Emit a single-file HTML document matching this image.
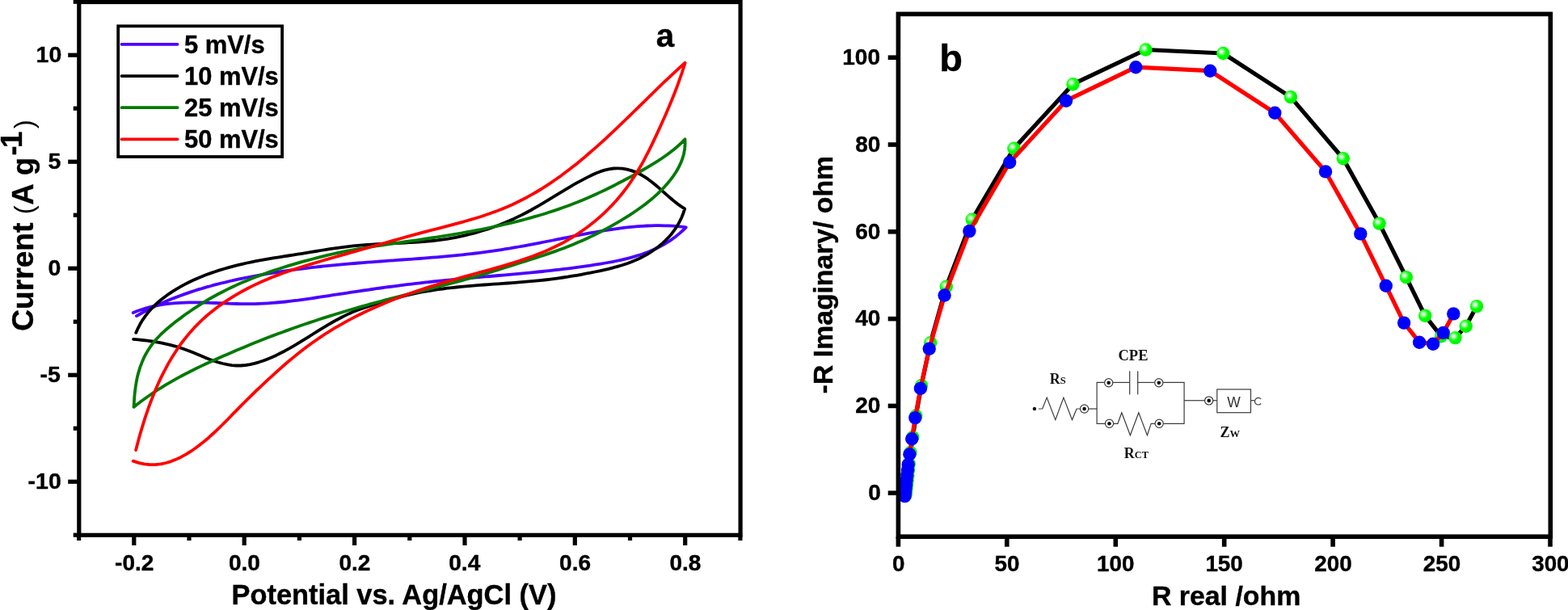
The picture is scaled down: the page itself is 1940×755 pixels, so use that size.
<!DOCTYPE html>
<html><head><meta charset="utf-8"><title>CV and EIS</title>
<style>html,body{margin:0;padding:0;background:#fff}body{width:1940px;height:755px;overflow:hidden}svg{display:block}text{font-family:"Liberation Sans",Arial,sans-serif;font-weight:bold;fill:#000;stroke:#000;stroke-width:0.4px;stroke-linejoin:round}.ser{font-family:"Liberation Serif","Times New Roman",serif;font-weight:bold;fill:#111;stroke:none}.reg{font-weight:normal;stroke:none}</style></head><body>
<svg width="1940" height="755" viewBox="0 0 1940 755">
<defs><radialGradient id="gs" cx="0.38" cy="0.38" r="0.6" fx="0.38" fy="0.38"><stop offset="0" stop-color="#ffffff"/><stop offset="0.1" stop-color="#f0fff0"/><stop offset="0.45" stop-color="#30ff30"/><stop offset="0.62" stop-color="#00ff00"/><stop offset="1" stop-color="#00f400"/></radialGradient><filter id="bl" x="-5%" y="-20%" width="110%" height="140%"><feGaussianBlur stdDeviation="0.35"/></filter></defs>
<rect width="1940" height="755" fill="#fff"/>
<g id="panel-a">
<g fill="none" stroke-width="3.8" stroke-linecap="round" stroke-linejoin="round">
<path stroke="#4b00ff" d="M168.9 391.1L173.6 388.5L178.4 385.9L183.1 383.4L187.9 381.0L192.8 378.6L197.6 376.4L202.5 374.2L207.4 372.1L212.4 370.0L217.4 368.1L222.4 366.2L227.4 364.4L232.5 362.6L237.5 360.9L242.6 359.2L247.8 357.7L252.9 356.1L258.1 354.7L263.2 353.2L268.4 351.9L273.6 350.5L278.9 349.3L284.1 348.0L289.3 346.9L294.6 345.7L299.9 344.6L305.1 343.5L310.4 342.5L315.7 341.5L321.0 340.5L326.3 339.6L331.6 338.7L336.9 337.8L342.2 337.0L347.6 336.2L352.9 335.4L358.2 334.6L363.6 333.9L368.9 333.2L374.2 332.5L379.6 331.8L384.9 331.2L390.3 330.6L395.6 330.0L401.0 329.4L406.3 328.9L411.7 328.3L417.0 327.8L422.4 327.3L427.7 326.9L433.1 326.4L438.5 326.0L443.8 325.5L449.2 325.1L454.5 324.7L459.9 324.3L465.3 323.9L470.6 323.5L476.0 323.1L481.3 322.7L486.7 322.3L492.1 321.9L497.4 321.5L502.8 321.2L508.1 320.8L513.5 320.4L518.8 320.0L524.2 319.6L529.6 319.1L534.9 318.7L540.3 318.3L545.6 317.8L551.0 317.3L556.3 316.8L561.7 316.3L567.0 315.8L572.3 315.3L577.7 314.7L583.0 314.1L588.4 313.5L593.7 312.8L599.0 312.1L604.3 311.4L609.7 310.7L615.0 309.9L620.3 309.1L625.6 308.2L630.9 307.4L636.2 306.4L641.5 305.5L646.8 304.6L652.1 303.6L657.3 302.6L662.6 301.6L667.9 300.6L673.2 299.5L678.5 298.5L683.8 297.5L689.0 296.4L694.3 295.4L699.6 294.3L704.9 293.3L710.2 292.2L715.4 291.2L720.7 290.2L726.0 289.2L731.3 288.2L736.6 287.3L741.9 286.4L747.2 285.5L752.5 284.6L757.8 283.8L763.1 283.1L768.4 282.4L773.7 281.7L779.0 281.1L784.3 280.6L789.7 280.2L795.0 279.8L800.3 279.5L805.7 279.3L811.1 279.2L816.4 279.2L821.8 279.3L827.2 279.4L832.6 279.7L838.0 280.1L843.4 280.7L848.8 281.3L844.8 285.3L840.7 288.9L836.5 292.4L832.2 295.6L827.8 298.7L823.2 301.5L818.6 304.1L813.9 306.6L809.0 308.8L804.1 310.9L799.2 312.9L794.1 314.7L789.0 316.3L783.8 317.9L778.6 319.3L773.4 320.6L768.1 321.9L762.7 323.0L757.4 324.1L752.0 325.0L746.6 326.0L741.2 326.9L735.8 327.7L730.4 328.6L725.0 329.4L719.5 330.1L714.1 330.9L708.7 331.6L703.3 332.3L697.9 332.9L692.5 333.6L687.1 334.2L681.7 334.8L676.3 335.4L670.9 336.0L665.5 336.5L660.1 337.1L654.7 337.6L649.3 338.1L643.9 338.6L638.5 339.1L633.1 339.6L627.7 340.1L622.3 340.6L616.9 341.0L611.5 341.5L606.1 342.0L600.6 342.4L595.2 342.9L589.8 343.4L584.4 343.9L579.0 344.3L573.6 344.8L568.2 345.3L562.8 345.8L557.4 346.3L552.0 346.9L546.6 347.4L541.2 347.9L535.9 348.5L530.5 349.1L525.1 349.7L519.7 350.3L514.3 350.9L508.9 351.6L503.5 352.2L498.1 352.9L492.7 353.6L487.3 354.3L481.9 355.0L476.5 355.7L471.1 356.5L465.7 357.2L460.3 358.0L454.9 358.8L449.6 359.5L444.2 360.3L438.8 361.1L433.4 361.9L428.0 362.8L422.7 363.6L417.3 364.4L411.9 365.2L406.6 366.1L401.2 366.9L395.8 367.7L390.5 368.5L385.1 369.3L379.7 370.1L374.4 370.8L369.0 371.6L363.6 372.2L358.2 372.9L352.9 373.5L347.5 374.0L342.1 374.5L336.7 374.9L331.3 375.3L325.9 375.6L320.4 375.9L315.0 376.1L309.6 376.2L304.1 376.2L298.7 376.1L293.2 376.0L287.8 375.8L282.3 375.7L276.8 375.4L271.4 375.2L265.9 375.0L260.5 374.8L255.0 374.6L249.6 374.5L244.1 374.4L238.7 374.4L233.3 374.4L227.9 374.6L222.5 374.8L217.1 375.1L211.8 375.6L206.4 376.2L201.1 376.9L195.8 377.8L190.6 378.9L185.3 380.1L180.1 381.5L175.0 383.2L169.8 385.0L164.7 387.1"/>
<path stroke="#000" d="M168.3 411.8L170.7 406.3L173.4 401.1L176.4 396.1L179.7 391.3L183.2 386.8L187.0 382.5L191.0 378.4L195.2 374.5L199.6 370.7L204.2 367.2L208.9 363.8L213.7 360.6L218.6 357.6L223.7 354.7L228.8 351.9L233.9 349.3L239.1 346.8L244.4 344.4L249.8 342.2L255.2 340.1L260.6 338.1L266.1 336.2L271.6 334.4L277.2 332.7L282.8 331.1L288.4 329.6L294.0 328.2L299.7 326.8L305.4 325.5L311.1 324.3L316.7 323.2L322.4 322.1L328.1 321.1L333.8 320.1L339.5 319.2L345.2 318.3L350.9 317.4L356.6 316.5L362.4 315.6L368.1 314.7L373.8 313.8L379.5 312.9L385.2 311.9L391.0 311.0L396.7 310.0L402.4 309.1L408.1 308.2L413.9 307.4L419.6 306.6L425.4 305.8L431.1 305.1L436.9 304.4L442.7 303.9L448.5 303.4L454.2 303.0L460.0 302.6L465.8 302.2L471.6 301.9L477.4 301.6L483.2 301.4L489.0 301.1L494.8 300.8L500.6 300.5L506.4 300.2L512.2 299.9L517.9 299.5L523.7 299.1L529.5 298.6L535.2 298.0L541.0 297.4L546.7 296.6L552.5 295.8L558.2 294.8L563.9 293.8L569.6 292.6L575.2 291.4L580.9 290.0L586.5 288.6L592.1 287.0L597.6 285.3L603.2 283.6L608.6 281.7L614.1 279.8L619.5 277.7L624.9 275.5L630.2 273.3L635.5 270.9L640.7 268.4L645.9 265.9L651.0 263.2L656.1 260.5L661.1 257.6L666.1 254.8L671.1 251.8L676.1 248.8L681.0 245.8L686.0 242.8L690.9 239.8L695.9 236.8L700.9 233.8L705.9 230.8L710.9 227.9L716.0 225.1L721.2 222.3L726.4 219.6L731.7 217.0L737.0 214.5L742.4 212.4L747.9 210.6L753.4 209.3L758.9 208.5L764.6 208.3L770.2 208.7L775.7 209.7L781.2 211.1L786.6 213.1L791.8 215.5L796.8 218.4L801.7 221.7L806.4 225.2L811.1 229.0L815.6 232.9L820.1 236.9L824.5 240.9L829.0 244.8L833.4 248.5L837.9 252.1L842.5 255.4L847.2 258.3L845.4 263.9L843.3 269.2L840.8 274.4L838.0 279.4L834.9 284.2L831.5 288.7L827.8 293.1L823.8 297.2L819.7 301.1L815.3 304.8L810.7 308.3L806.0 311.5L801.1 314.6L796.0 317.4L790.9 320.0L785.7 322.3L780.4 324.5L775.0 326.5L769.5 328.3L764.0 329.9L758.5 331.4L752.9 332.8L747.3 334.1L741.7 335.4L736.0 336.5L730.4 337.7L724.7 338.7L719.1 339.8L713.4 340.8L707.8 341.7L702.1 342.7L696.5 343.5L690.8 344.3L685.1 345.1L679.4 345.8L673.7 346.5L668.0 347.1L662.3 347.7L656.6 348.2L650.9 348.7L645.1 349.2L639.4 349.7L633.7 350.1L627.9 350.5L622.2 350.9L616.4 351.3L610.7 351.7L604.9 352.1L599.2 352.5L593.5 352.9L587.7 353.4L582.0 353.8L576.3 354.3L570.5 354.9L564.8 355.5L559.1 356.1L553.4 356.7L547.7 357.5L542.0 358.2L536.4 359.1L530.7 360.0L525.0 361.0L519.4 362.0L513.8 363.2L508.2 364.4L502.6 365.7L497.0 367.1L491.5 368.6L485.9 370.2L480.4 371.8L474.9 373.4L469.3 375.0L463.8 376.7L458.3 378.4L452.9 380.2L447.4 382.0L442.0 384.0L436.7 386.1L431.5 388.4L426.3 390.9L421.2 393.5L416.1 396.2L411.1 399.0L406.1 401.9L401.2 404.8L396.2 407.9L391.3 410.9L386.4 414.0L381.5 417.1L376.6 420.1L371.7 423.2L366.8 426.2L361.8 429.1L356.8 431.9L351.8 434.7L346.7 437.3L341.5 439.9L336.3 442.2L331.0 444.4L325.7 446.5L320.2 448.3L314.7 449.8L309.2 451.1L303.6 452.0L298.0 452.5L292.4 452.5L286.8 452.1L281.2 451.2L275.7 450.0L270.1 448.5L264.6 446.7L259.2 444.7L253.7 442.6L248.4 440.3L243.0 438.1L237.6 435.8L232.2 433.7L226.8 431.7L221.4 429.9L215.9 428.3L210.5 426.9L204.9 425.6L199.4 424.4L193.7 423.4L188.1 422.5L182.4 421.7L176.7 421.0L170.9 420.4L165.1 419.8"/>
<path stroke="#007a04" d="M165.6 503.8L165.9 497.7L166.3 491.5L166.9 485.2L167.7 479.0L168.7 472.8L169.9 466.6L171.5 460.6L173.3 454.6L175.5 448.8L177.9 443.2L180.7 437.7L183.8 432.5L187.3 427.4L191.0 422.6L195.1 418.0L199.4 413.5L204.0 409.3L208.7 405.2L213.5 401.2L218.5 397.3L223.5 393.6L228.5 389.8L233.7 386.2L238.8 382.7L244.0 379.3L249.3 375.9L254.6 372.7L259.9 369.5L265.3 366.5L270.8 363.5L276.3 360.7L281.8 357.9L287.4 355.2L293.0 352.6L298.7 350.1L304.4 347.7L310.2 345.3L315.9 343.1L321.7 340.9L327.6 338.7L333.4 336.6L339.3 334.6L345.2 332.7L351.1 330.8L357.1 328.9L363.1 327.2L369.0 325.4L375.0 323.7L381.0 322.1L387.0 320.5L393.1 318.9L399.1 317.4L405.1 315.9L411.2 314.5L417.3 313.2L423.3 311.9L429.4 310.7L435.5 309.5L441.6 308.4L447.7 307.3L453.9 306.3L460.0 305.3L466.1 304.4L472.2 303.5L478.4 302.6L484.5 301.7L490.7 300.8L496.8 299.9L503.0 299.0L509.1 298.2L515.3 297.3L521.4 296.3L527.6 295.4L533.7 294.5L539.9 293.6L546.0 292.6L552.2 291.6L558.3 290.6L564.5 289.6L570.6 288.5L576.7 287.4L582.8 286.3L588.9 285.2L595.0 284.0L601.1 282.8L607.2 281.5L613.3 280.2L619.4 278.9L625.4 277.5L631.5 276.1L637.5 274.6L643.5 273.1L649.5 271.5L655.5 269.9L661.5 268.2L667.4 266.5L673.4 264.7L679.3 262.8L685.2 260.9L691.1 258.9L696.9 256.8L702.7 254.7L708.5 252.5L714.3 250.3L720.0 248.0L725.8 245.6L731.5 243.1L737.1 240.5L742.7 237.9L748.4 235.2L753.9 232.5L759.5 229.7L765.0 226.8L770.5 224.0L776.0 221.0L781.5 218.1L786.9 215.1L792.4 212.0L797.8 209.0L803.1 205.9L808.4 202.7L813.7 199.4L818.9 196.0L823.9 192.5L828.9 188.8L833.8 185.0L838.5 181.0L843.1 176.8L847.5 172.3L847.6 178.6L847.1 184.7L846.0 190.7L844.3 196.5L842.1 202.1L839.5 207.5L836.5 212.7L833.1 217.8L829.5 222.6L825.7 227.3L821.7 231.8L817.5 236.2L813.1 240.4L808.6 244.4L804.0 248.3L799.2 252.1L794.3 255.7L789.3 259.3L784.3 262.7L779.2 266.1L774.0 269.3L768.8 272.5L763.6 275.6L758.3 278.6L753.0 281.6L747.7 284.4L742.3 287.2L736.9 290.0L731.5 292.6L726.0 295.2L720.5 297.7L714.9 300.1L709.4 302.4L703.7 304.7L698.1 306.9L692.4 309.0L686.7 311.1L680.9 313.1L675.1 315.1L669.4 317.0L663.6 318.9L657.8 320.8L652.0 322.6L646.2 324.5L640.4 326.3L634.6 328.2L628.8 330.0L623.0 331.8L617.2 333.7L611.4 335.5L605.7 337.2L599.9 339.0L594.1 340.7L588.3 342.4L582.4 344.1L576.6 345.7L570.8 347.3L564.9 348.9L559.0 350.5L553.2 352.0L547.3 353.5L541.4 355.0L535.5 356.5L529.6 358.0L523.7 359.5L517.9 360.9L512.0 362.4L506.1 363.9L500.2 365.4L494.3 366.9L488.4 368.4L482.5 369.9L476.6 371.4L470.8 373.0L464.9 374.6L459.0 376.2L453.2 377.8L447.3 379.4L441.5 381.1L435.7 382.8L429.8 384.5L424.0 386.2L418.2 388.0L412.4 389.8L406.6 391.6L400.8 393.4L395.0 395.3L389.3 397.2L383.5 399.1L377.8 401.0L372.0 403.0L366.3 405.0L360.6 407.0L354.9 409.1L349.2 411.2L343.5 413.3L337.8 415.4L332.1 417.6L326.4 419.8L320.8 422.1L315.1 424.3L309.5 426.6L303.9 428.9L298.3 431.2L292.7 433.6L287.1 436.0L281.5 438.4L275.9 440.8L270.4 443.3L264.8 445.7L259.3 448.3L253.8 450.8L248.3 453.4L242.8 456.0L237.4 458.7L232.0 461.5L226.6 464.3L221.2 467.1L215.9 470.1L210.7 473.1L205.4 476.1L200.3 479.3L195.1 482.5L190.1 485.8L185.1 489.2L180.1 492.7L175.2 496.3L170.3 500.0L165.6 503.8"/>
<path stroke="#ff0000" d="M168.1 557.1L169.8 550.6L171.5 544.1L173.3 537.6L175.2 531.1L177.2 524.6L179.2 518.1L181.4 511.7L183.6 505.2L185.9 498.8L188.4 492.4L190.9 486.1L193.6 479.8L196.3 473.6L199.2 467.4L202.2 461.3L205.4 455.3L208.6 449.4L212.0 443.6L215.6 437.9L219.3 432.2L223.1 426.7L227.1 421.3L231.3 416.1L235.6 410.9L240.1 405.9L244.8 401.1L249.6 396.4L254.6 391.8L259.8 387.4L265.1 383.2L270.5 379.1L276.1 375.1L281.8 371.3L287.6 367.6L293.4 364.1L299.4 360.7L305.4 357.5L311.5 354.4L317.7 351.4L323.9 348.6L330.1 345.9L336.3 343.3L342.6 340.9L348.9 338.5L355.3 336.3L361.6 334.1L368.0 332.0L374.4 330.0L380.8 328.0L387.3 326.1L393.8 324.2L400.2 322.3L406.8 320.4L413.3 318.5L419.8 316.6L426.4 314.8L432.9 312.9L439.5 311.1L446.0 309.2L452.6 307.4L459.1 305.5L465.6 303.7L472.1 301.8L478.6 300.0L485.1 298.1L491.6 296.3L498.1 294.5L504.7 292.7L511.2 290.9L517.7 289.2L524.2 287.4L530.8 285.7L537.3 284.0L543.9 282.3L550.4 280.6L557.0 278.9L563.5 277.1L570.1 275.3L576.6 273.5L583.1 271.6L589.6 269.7L596.1 267.7L602.5 265.5L608.9 263.3L615.2 261.0L621.5 258.5L627.7 255.9L633.9 253.2L640.0 250.3L646.0 247.3L652.0 244.2L657.9 240.9L663.8 237.5L669.6 234.0L675.3 230.3L681.0 226.6L686.6 222.8L692.2 218.9L697.7 214.8L703.1 210.8L708.5 206.6L713.8 202.4L719.1 198.1L724.3 193.7L729.4 189.3L734.5 184.9L739.6 180.4L744.6 175.9L749.6 171.3L754.6 166.7L759.5 162.0L764.4 157.4L769.3 152.7L774.2 148.0L779.0 143.3L783.9 138.5L788.7 133.8L793.5 129.1L798.4 124.3L803.2 119.6L808.1 114.8L812.9 110.1L817.8 105.4L822.7 100.7L827.6 96.1L832.6 91.4L837.5 86.8L842.6 82.2L847.6 77.7L845.6 84.3L843.5 90.9L841.2 97.4L838.9 103.9L836.5 110.4L834.0 116.8L831.4 123.2L828.8 129.5L826.1 135.9L823.4 142.2L820.6 148.5L817.8 154.8L814.9 161.1L812.0 167.4L809.1 173.6L806.1 179.9L803.1 186.0L799.9 192.2L796.7 198.3L793.4 204.3L789.9 210.2L786.3 216.1L782.6 221.8L778.8 227.5L774.8 233.0L770.6 238.5L766.3 243.8L761.8 249.0L757.1 254.1L752.3 259.0L747.4 263.8L742.3 268.4L737.1 272.9L731.7 277.3L726.2 281.5L720.6 285.5L714.9 289.4L709.1 293.1L703.2 296.7L697.2 300.1L691.0 303.3L684.8 306.3L678.6 309.2L672.2 311.9L665.8 314.5L659.4 317.0L652.9 319.3L646.3 321.6L639.8 323.8L633.2 325.9L626.6 327.9L620.0 329.8L613.4 331.7L606.8 333.6L600.2 335.4L593.6 337.2L586.9 339.0L580.3 340.9L573.6 342.7L567.0 344.5L560.4 346.4L553.7 348.3L547.1 350.2L540.5 352.2L533.9 354.3L527.3 356.4L520.8 358.5L514.2 360.8L507.7 363.0L501.2 365.4L494.7 367.8L488.3 370.3L481.9 372.8L475.5 375.5L469.1 378.2L462.8 380.9L456.5 383.8L450.3 386.7L444.1 389.8L437.9 392.9L431.8 396.1L425.8 399.4L419.8 402.8L413.9 406.2L408.0 409.8L402.1 413.5L396.4 417.3L390.7 421.2L385.0 425.2L379.5 429.3L374.0 433.4L368.6 437.7L363.2 442.1L357.9 446.5L352.6 451.0L347.5 455.5L342.3 460.1L337.2 464.8L332.1 469.4L327.1 474.1L322.1 478.8L317.1 483.5L312.2 488.3L307.3 493.1L302.4 498.0L297.5 502.9L292.7 507.8L287.9 512.7L283.1 517.7L278.2 522.6L273.3 527.5L268.3 532.3L263.3 537.0L258.1 541.7L252.8 546.2L247.3 550.6L241.7 554.8L236.0 558.7L230.1 562.4L224.0 565.7L217.9 568.6L211.6 571.1L205.2 573.0L198.7 574.4L192.1 575.1L185.4 575.1L178.6 574.4L171.7 572.9L164.7 570.6"/>
</g>
<g stroke="#000" stroke-width="5.2" fill="none" stroke-linecap="butt">
<rect x="97.8" y="2.5" width="818.3" height="659.8"/>
<line x1="84.2" x2="97.8" y1="68.2" y2="68.2"/>
<line x1="84.2" x2="97.8" y1="200.2" y2="200.2"/>
<line x1="84.2" x2="97.8" y1="332.2" y2="332.2"/>
<line x1="84.2" x2="97.8" y1="464.2" y2="464.2"/>
<line x1="84.2" x2="97.8" y1="596.2" y2="596.2"/>
<line x1="90.7" x2="97.8" y1="2.2" y2="2.2"/>
<line x1="90.7" x2="97.8" y1="134.2" y2="134.2"/>
<line x1="90.7" x2="97.8" y1="266.2" y2="266.2"/>
<line x1="90.7" x2="97.8" y1="398.2" y2="398.2"/>
<line x1="90.7" x2="97.8" y1="530.2" y2="530.2"/>
<line x1="90.7" x2="97.8" y1="662.2" y2="662.2"/>
<line y1="662.3" y2="675" x1="165.8" x2="165.8"/>
<line y1="662.3" y2="675" x1="302.2" x2="302.2"/>
<line y1="662.3" y2="675" x1="438.6" x2="438.6"/>
<line y1="662.3" y2="675" x1="575.0" x2="575.0"/>
<line y1="662.3" y2="675" x1="711.3" x2="711.3"/>
<line y1="662.3" y2="675" x1="847.7" x2="847.7"/>
<line y1="662.3" y2="669" x1="97.6" x2="97.6"/>
<line y1="662.3" y2="669" x1="234.0" x2="234.0"/>
<line y1="662.3" y2="669" x1="370.4" x2="370.4"/>
<line y1="662.3" y2="669" x1="506.8" x2="506.8"/>
<line y1="662.3" y2="669" x1="643.1" x2="643.1"/>
<line y1="662.3" y2="669" x1="779.5" x2="779.5"/>
<line y1="662.3" y2="669" x1="915.9" x2="915.9"/>
</g>
<text x="44.6" y="76.9" font-size="28.5">10</text>
<text x="59.6" y="208.9" font-size="28.5">5</text>
<text x="59.6" y="340.9" font-size="28.5">0</text>
<text x="49.6" y="472.9" font-size="28.5">-5</text>
<text x="34.6" y="604.9" font-size="28.5">-10</text>
<text x="142.1" y="706.1" font-size="28">-0.2</text>
<text x="283.0" y="706.1" font-size="28">0.0</text>
<text x="419.4" y="706.1" font-size="28">0.2</text>
<text x="555.3" y="706.1" font-size="28">0.4</text>
<text x="692.1" y="706.1" font-size="28">0.6</text>
<text x="828.5" y="706.1" font-size="28">0.8</text>
<text x="286.5" y="747.6" font-size="34.4">Potential vs. Ag/AgCl (V)</text>
<text transform="rotate(-90)" font-size="37.2"><tspan x="-409.85" y="40.75">Current </tspan><tspan class="reg" x="-265.25" y="40.8" font-size="32.6">(</tspan><tspan x="-253.65" y="40.55" font-size="36.8">A </tspan><tspan x="-217.05" y="40.8" font-size="36.1">g</tspan><tspan x="-192.4" y="26.6" font-size="36">-</tspan><tspan x="-183" y="27" font-size="36.5">1</tspan><tspan class="reg" x="-159.25" y="41.1" font-size="33.2">)</tspan></text>
<text x="811.8" y="58.2" font-size="40.3">a</text>
<rect x="146.2" y="32.3" width="202.9" height="161.7" fill="#fff" stroke="#000" stroke-width="3.8"/>
<line x1="150.5" x2="219.5" y1="54.8" y2="54.8" stroke="#4b00ff" stroke-width="3.8" stroke-linecap="round"/>
<text x="228.0" y="65.5" font-size="30.9">5 mV/s</text>
<line x1="150.5" x2="219.5" y1="94.1" y2="94.1" stroke="#000" stroke-width="3.8" stroke-linecap="round"/>
<text x="228.0" y="104.8" font-size="30.9">10 mV/s</text>
<line x1="150.5" x2="219.5" y1="133.2" y2="133.2" stroke="#007a04" stroke-width="3.8" stroke-linecap="round"/>
<text x="228.0" y="143.9" font-size="30.9">25 mV/s</text>
<line x1="150.5" x2="219.5" y1="172.3" y2="172.3" stroke="#ff0000" stroke-width="3.8" stroke-linecap="round"/>
<text x="228.0" y="183.0" font-size="30.9">50 mV/s</text>
</g>
<g id="panel-b">
<path d="M1120.5 612.5L1121.0 609.0L1121.5 605.0L1122.0 600.0L1122.6 595.0L1123.3 589.0L1124.0 582.0L1124.8 574.0L1126.5 560.0L1129.3 541.0L1133.3 514.5L1140.0 477.0L1151.2 424.2L1170.8 354.8L1202.7 271.7L1254.4 183.7L1327.5 104.2L1417.5 61.5L1513.3 66.0L1596.9 120.1L1661.8 196.2L1706.6 276.6L1739.8 343.1L1763.2 390.8L1783.1 416.2L1800.5 418.1L1813.7 403.7L1827.0 379.1" fill="none" stroke="#000" stroke-width="5.2" stroke-linejoin="round"/>
<circle cx="1120.5" cy="612.5" r="8.2" fill="url(#gs)"/>
<circle cx="1121.0" cy="609.0" r="8.2" fill="url(#gs)"/>
<circle cx="1121.5" cy="605.0" r="8.2" fill="url(#gs)"/>
<circle cx="1122.0" cy="600.0" r="8.2" fill="url(#gs)"/>
<circle cx="1122.6" cy="595.0" r="8.2" fill="url(#gs)"/>
<circle cx="1123.3" cy="589.0" r="8.2" fill="url(#gs)"/>
<circle cx="1124.0" cy="582.0" r="8.2" fill="url(#gs)"/>
<circle cx="1124.8" cy="574.0" r="8.2" fill="url(#gs)"/>
<circle cx="1126.5" cy="560.0" r="8.2" fill="url(#gs)"/>
<circle cx="1129.3" cy="541.0" r="8.2" fill="url(#gs)"/>
<circle cx="1133.3" cy="514.5" r="8.2" fill="url(#gs)"/>
<circle cx="1140.0" cy="477.0" r="8.2" fill="url(#gs)"/>
<circle cx="1151.2" cy="424.2" r="8.2" fill="url(#gs)"/>
<circle cx="1170.8" cy="354.8" r="8.2" fill="url(#gs)"/>
<circle cx="1202.7" cy="271.7" r="8.2" fill="url(#gs)"/>
<circle cx="1254.4" cy="183.7" r="8.2" fill="url(#gs)"/>
<circle cx="1327.5" cy="104.2" r="8.2" fill="url(#gs)"/>
<circle cx="1417.5" cy="61.5" r="8.2" fill="url(#gs)"/>
<circle cx="1513.3" cy="66.0" r="8.2" fill="url(#gs)"/>
<circle cx="1596.9" cy="120.1" r="8.2" fill="url(#gs)"/>
<circle cx="1661.8" cy="196.2" r="8.2" fill="url(#gs)"/>
<circle cx="1706.6" cy="276.6" r="8.2" fill="url(#gs)"/>
<circle cx="1739.8" cy="343.1" r="8.2" fill="url(#gs)"/>
<circle cx="1763.2" cy="390.8" r="8.2" fill="url(#gs)"/>
<circle cx="1783.1" cy="416.2" r="8.2" fill="url(#gs)"/>
<circle cx="1800.5" cy="418.1" r="8.2" fill="url(#gs)"/>
<circle cx="1813.7" cy="403.7" r="8.2" fill="url(#gs)"/>
<circle cx="1827.0" cy="379.1" r="8.2" fill="url(#gs)"/>
<path d="M1119.5 614.1L1119.8 611.0L1120.1 608.0L1120.5 604.0L1121.0 599.5L1121.6 594.0L1122.3 588.0L1123.0 581.5L1123.7 575.1L1125.4 562.2L1128.2 543.2L1132.3 517.1L1138.9 480.8L1149.7 431.6L1168.6 365.5L1199.4 286.1L1249.2 201.0L1319.0 124.7L1405.3 83.2L1497.3 87.7L1577.3 139.7L1640.0 212.4L1683.3 289.4L1714.8 353.8L1737.1 399.6L1756.1 423.7L1773.1 425.7L1785.7 411.9L1798.3 388.4" fill="none" stroke="#ff0000" stroke-width="5.2" stroke-linejoin="round"/>
<circle cx="1119.5" cy="614.1" r="8.2" fill="#0000ff"/>
<circle cx="1119.8" cy="611.0" r="8.2" fill="#0000ff"/>
<circle cx="1120.1" cy="608.0" r="8.2" fill="#0000ff"/>
<circle cx="1120.5" cy="604.0" r="8.2" fill="#0000ff"/>
<circle cx="1121.0" cy="599.5" r="8.2" fill="#0000ff"/>
<circle cx="1121.6" cy="594.0" r="8.2" fill="#0000ff"/>
<circle cx="1122.3" cy="588.0" r="8.2" fill="#0000ff"/>
<circle cx="1123.0" cy="581.5" r="8.2" fill="#0000ff"/>
<circle cx="1123.7" cy="575.1" r="8.2" fill="#0000ff"/>
<circle cx="1125.4" cy="562.2" r="8.2" fill="#0000ff"/>
<circle cx="1128.2" cy="543.2" r="8.2" fill="#0000ff"/>
<circle cx="1132.3" cy="517.1" r="8.2" fill="#0000ff"/>
<circle cx="1138.9" cy="480.8" r="8.2" fill="#0000ff"/>
<circle cx="1149.7" cy="431.6" r="8.2" fill="#0000ff"/>
<circle cx="1168.6" cy="365.5" r="8.2" fill="#0000ff"/>
<circle cx="1199.4" cy="286.1" r="8.2" fill="#0000ff"/>
<circle cx="1249.2" cy="201.0" r="8.2" fill="#0000ff"/>
<circle cx="1319.0" cy="124.7" r="8.2" fill="#0000ff"/>
<circle cx="1405.3" cy="83.2" r="8.2" fill="#0000ff"/>
<circle cx="1497.3" cy="87.7" r="8.2" fill="#0000ff"/>
<circle cx="1577.3" cy="139.7" r="8.2" fill="#0000ff"/>
<circle cx="1640.0" cy="212.4" r="8.2" fill="#0000ff"/>
<circle cx="1683.3" cy="289.4" r="8.2" fill="#0000ff"/>
<circle cx="1714.8" cy="353.8" r="8.2" fill="#0000ff"/>
<circle cx="1737.1" cy="399.6" r="8.2" fill="#0000ff"/>
<circle cx="1756.1" cy="423.7" r="8.2" fill="#0000ff"/>
<circle cx="1773.1" cy="425.7" r="8.2" fill="#0000ff"/>
<circle cx="1785.7" cy="411.9" r="8.2" fill="#0000ff"/>
<circle cx="1798.3" cy="388.4" r="8.2" fill="#0000ff"/>
<g stroke="#000" stroke-width="5.6" fill="none">
<rect x="1111.4" y="17.4" width="806.9" height="646.8"/>
<line x1="1098.7" x2="1111.4" y1="610.2" y2="610.2"/>
<line x1="1098.7" x2="1111.4" y1="502.4" y2="502.4"/>
<line x1="1098.7" x2="1111.4" y1="394.6" y2="394.6"/>
<line x1="1098.7" x2="1111.4" y1="286.8" y2="286.8"/>
<line x1="1098.7" x2="1111.4" y1="179.0" y2="179.0"/>
<line x1="1098.7" x2="1111.4" y1="71.2" y2="71.2"/>
<line y1="664.2" y2="676.7" x1="1111.4" x2="1111.4"/>
<line y1="664.2" y2="676.7" x1="1245.8" x2="1245.8"/>
<line y1="664.2" y2="676.7" x1="1380.3" x2="1380.3"/>
<line y1="664.2" y2="676.7" x1="1514.7" x2="1514.7"/>
<line y1="664.2" y2="676.7" x1="1649.1" x2="1649.1"/>
<line y1="664.2" y2="676.7" x1="1783.6" x2="1783.6"/>
<line y1="664.2" y2="676.7" x1="1918.0" x2="1918.0"/>
</g>
<text x="1074.3" y="618.9" font-size="28">0</text>
<text x="1058.3" y="511.1" font-size="28">20</text>
<text x="1058.3" y="403.3" font-size="28">40</text>
<text x="1058.3" y="295.5" font-size="28">60</text>
<text x="1058.3" y="187.7" font-size="28">80</text>
<text x="1042.3" y="79.9" font-size="28">100</text>
<text x="1104.1" y="707.3" font-size="27.8">0</text>
<text x="1230.5" y="707.3" font-size="27.8">50</text>
<text x="1357.0" y="707.3" font-size="27.8">100</text>
<text x="1491.4" y="707.3" font-size="27.8">150</text>
<text x="1626.3" y="707.3" font-size="27.8">200</text>
<text x="1760.8" y="707.3" font-size="27.8">250</text>
<text x="1895.2" y="707.3" font-size="27.8">300</text>
<text x="1425.0" y="749.4" font-size="33.85">R real /ohm</text>
<text transform="rotate(-90)" x="-487.15" y="1030.1" font-size="33.72">-R Imaginary/ ohm</text>
<text x="1162.25" y="88.35" font-size="47">b</text>
<g id="circuit" fill="none" stroke="#3c3c3c" stroke-width="1.2" stroke-linejoin="miter" filter="url(#bl)">
<path d="M1285.0 506.0L1289.7 506.0L1295.2 492.1L1305.8 519.6L1315.9 492.1L1326.5 519.6L1332.1 506.0L1336.7 506.0"/>
<path d="M1346.9 506.0L1357.1 506.0"/>
<path d="M1366.6 473.4L1357.1 473.4L1357.1 524.3L1367.4 524.3"/>
<path d="M1377.0 473.4L1397.7 473.4"/>
<path d="M1397.7 459.2L1397.7 488.2"/>
<path d="M1407.7 459.2L1407.7 488.2"/>
<path d="M1407.7 473.4L1428.5 473.4"/>
<path d="M1439.1 473.4L1465.1 473.4L1465.1 524.3L1439.5 524.3"/>
<path d="M1377.6 524.3L1382.9 524.3L1387.8 510.7L1398.4 538.7L1408.8 510.7L1419.4 538.7L1424.2 524.3L1428.9 524.3"/>
<path d="M1465.1 495.7L1490.4 495.7"/>
<path d="M1501.0 495.7L1505.8 495.7"/>
<rect x="1505.8" y="481.9" width="41.7" height="28.8"/>
<path d="M1547.6 495.7L1552.0 495.7"/>
<path d="M1560.1 493.9 A4.3 4.3 0 1 0 1560.1 499.5"/>
<circle cx="1341.6" cy="506.0" r="5.1"/>
<circle cx="1341.6" cy="506.0" r="2.3" fill="#111" stroke="none"/>
<circle cx="1371.7" cy="473.8" r="5.1"/>
<circle cx="1371.7" cy="473.8" r="2.3" fill="#111" stroke="none"/>
<circle cx="1433.8" cy="473.8" r="5.1"/>
<circle cx="1433.8" cy="473.8" r="2.3" fill="#111" stroke="none"/>
<circle cx="1372.5" cy="524.3" r="5.1"/>
<circle cx="1372.5" cy="524.3" r="2.3" fill="#111" stroke="none"/>
<circle cx="1434.2" cy="524.3" r="5.1"/>
<circle cx="1434.2" cy="524.3" r="2.3" fill="#111" stroke="none"/>
<circle cx="1495.7" cy="495.9" r="5.1"/>
<circle cx="1495.7" cy="495.9" r="2.3" fill="#111" stroke="none"/>
<circle cx="1279.9" cy="506.0" r="2.2" fill="#111" stroke="none"/>
</g>
<text x="1526.6" y="504.3" font-size="17.5" text-anchor="middle" style="font-weight:normal;fill:#333;stroke:none">W</text>
<text class="ser" x="1383.5" y="445.6" font-size="18.5">CPE</text>
<text class="ser" x="1298.8" y="474.7" font-size="18">R<tspan font-size="12.5">S</tspan></text>
<text class="ser" x="1390.8" y="567.1" font-size="18">R<tspan font-size="12.5">CT</tspan></text>
<text class="ser" x="1509.6" y="540.8" font-size="18">Z<tspan font-size="12.5">W</tspan></text>
</g>
</svg></body></html>
